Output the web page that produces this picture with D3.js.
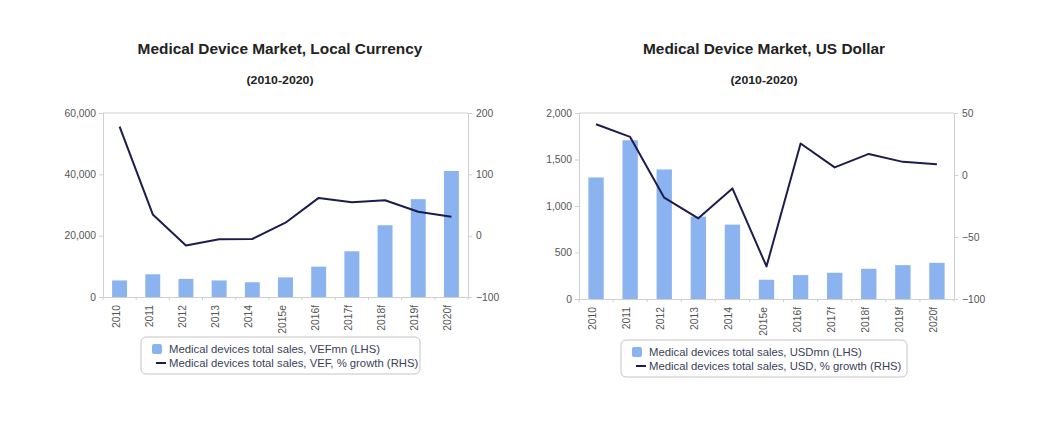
<!DOCTYPE html>
<html>
<head>
<meta charset="utf-8">
<script src="https://cdn.jsdelivr.net/npm/d3@7"></script>
<style>
  html, body { margin: 0; padding: 0; background: #fff; }
  svg { display: block; font-family: "Liberation Sans", Arial, sans-serif; }
</style>
</head>
<body>
<svg id="chart" width="1055" height="425"></svg>
<script>
const categories = ["2010","2011","2012","2013","2014","2015e","2016f","2017f","2018f","2019f","2020f"];

const vefSales  = [5400, 7400, 5900, 5400, 4800, 6400, 9900, 14900, 23400, 31900, 41100];
const vefGrowth = [177.8, 34.6, -16.2, -5.9, -5.4, 21.1, 61.6, 54.6, 57.8, 38.9, 30.8];
const usdSales  = [1307, 1707, 1393, 886, 800, 207, 257, 282, 325, 364, 389];
const usdGrowth = [40.9, 30.7, -18.3, -34.9, -10.8, -73.7, 25.4, 6.1, 17.0, 10.6, 8.7];

const vefSalesTicks  = [0, 20000, 40000, 60000];
const vefGrowthTicks = [-100, 0, 100, 200];
const usdSalesTicks  = [0, 500, 1000, 1500, 2000];
const usdGrowthTicks = [-100, -50, 0, 50];

const titles = ["Medical Device Market, Local Currency", "Medical Device Market, US Dollar"];
const subtitle = "(2010-2020)";
const vefLegend = ["Medical devices total sales, VEFmn (LHS)", "Medical devices total sales, VEF, % growth (RHS)"];
const usdLegend = ["Medical devices total sales, USDmn (LHS)", "Medical devices total sales, USD, % growth (RHS)"];

const BAR = "#8ab3f0", LINE = "#1d1d4d", AXIS = "#cfcfcf", TXT = "#555";
const svg = d3.select("#chart");
const fmt = d3.format(",");

function drawChart(o) {
  const g = svg.append("g");
  const x = d3.scaleBand().domain(categories).range([o.x0, o.x1]).paddingInner(0.55).paddingOuter(0.275);
  const yL = d3.scaleLinear().domain(o.lDomain).range([o.y1, o.y0]);
  const yR = d3.scaleLinear().domain(o.rDomain).range([o.y1, o.y0]);

  // titles (slightly widened like the reference rendering)
  g.append("text").attr("transform", `translate(${o.tx},54) scale(1.1,1)`).attr("text-anchor", "middle")
    .attr("font-size", 14).attr("font-weight", "bold").attr("fill", "#222").text(o.title);
  g.append("text").attr("transform", `translate(${o.tx},84) scale(1.12,1)`).attr("text-anchor", "middle")
    .attr("font-size", 11).attr("font-weight", "bold").attr("fill", "#222").text(subtitle);

  // top border line
  g.append("line").attr("x1", o.x0).attr("x2", o.x1).attr("y1", o.y0).attr("y2", o.y0)
    .attr("stroke", AXIS).attr("stroke-width", 1);

  // bars
  g.selectAll("rect.bar").data(o.sales).join("rect").attr("class", "bar")
    .attr("x", (d, i) => x(categories[i]))
    .attr("width", x.bandwidth())
    .attr("y", d => yL(d))
    .attr("height", d => yL(0) - yL(d))
    .attr("fill", BAR);

  const la = g.append("g").attr("transform", `translate(${o.x0},0)`)
    .call(d3.axisLeft(yL).tickValues(o.lTicks).tickFormat(fmt).tickSize(4).tickPadding(3));
  const ra = g.append("g").attr("transform", `translate(${o.x1},0)`)
    .call(d3.axisRight(yR).tickValues(o.rTicks).tickSize(4).tickPadding(4));
  const xa = g.append("g").attr("transform", `translate(0,${o.y1})`)
    .call(d3.axisBottom(x).tickSize(0).tickPadding(0));
  xa.selectAll(".tick text").attr("transform", "rotate(-90)")
    .attr("text-anchor", "end").attr("x", -8).attr("y", 0).attr("dy", "0");
  const bounds = categories.map(c => x(c) - x.step() * x.paddingInner() / 2).concat([o.x1]);
  g.selectAll("line.bt").data(bounds).join("line").attr("class", "bt")
    .attr("x1", d => d).attr("x2", d => d).attr("y1", o.y1).attr("y2", o.y1 + 3)
    .attr("stroke", AXIS);

  [la, ra, xa].forEach(a => {
    a.selectAll(".domain").attr("stroke", AXIS);
    a.selectAll(".tick line").attr("stroke", AXIS);
    a.selectAll(".tick text").attr("fill", TXT).attr("font-size", 10.3)
      .attr("font-family", "'Liberation Sans', Arial, sans-serif");
  });

  const line = d3.line().x((d, i) => x(categories[i]) + x.bandwidth() / 2).y(d => yR(d));
  g.append("path").datum(o.growth).attr("d", line).attr("fill", "none")
    .attr("stroke", LINE).attr("stroke-width", 2).attr("stroke-linejoin", "round");

  const lg = g.append("g").attr("transform", `translate(${o.lx},${o.ly})`);
  lg.append("rect").attr("x", 0).attr("y", 0).attr("width", o.lw).attr("height", 37)
    .attr("rx", 5).attr("fill", "#fff").attr("stroke", "#c4c4c4");
  lg.append("rect").attr("x", 11).attr("y", 7).attr("width", 10).attr("height", 10).attr("rx", 2).attr("fill", BAR);
  lg.append("line").attr("x1", 15).attr("x2", 25).attr("y1", 26).attr("y2", 26).attr("stroke", LINE).attr("stroke-width", 2);
  lg.selectAll("text").data(o.legend).join("text")
    .attr("x", 28).attr("y", (d, i) => 16 + i * 13.5)
    .attr("font-size", 11.3).attr("fill", "#3a3f5a").text(d => d);
}

drawChart({
  x0: 103, x1: 468, y0: 113, y1: 297, tx: 280,
  lDomain: [0, 60000], rDomain: [-100, 200], lTicks: vefSalesTicks, rTicks: vefGrowthTicks,
  sales: vefSales, growth: vefGrowth, title: titles[0], legend: vefLegend,
  lx: 141, ly: 337, lw: 279
});
drawChart({
  x0: 579, x1: 954, y0: 113, y1: 299, tx: 764,
  lDomain: [0, 2000], rDomain: [-100, 50], lTicks: usdSalesTicks, rTicks: usdGrowthTicks,
  sales: usdSales, growth: usdGrowth, title: titles[1], legend: usdLegend,
  lx: 621, ly: 340, lw: 286
});
</script>
</body>
</html>
